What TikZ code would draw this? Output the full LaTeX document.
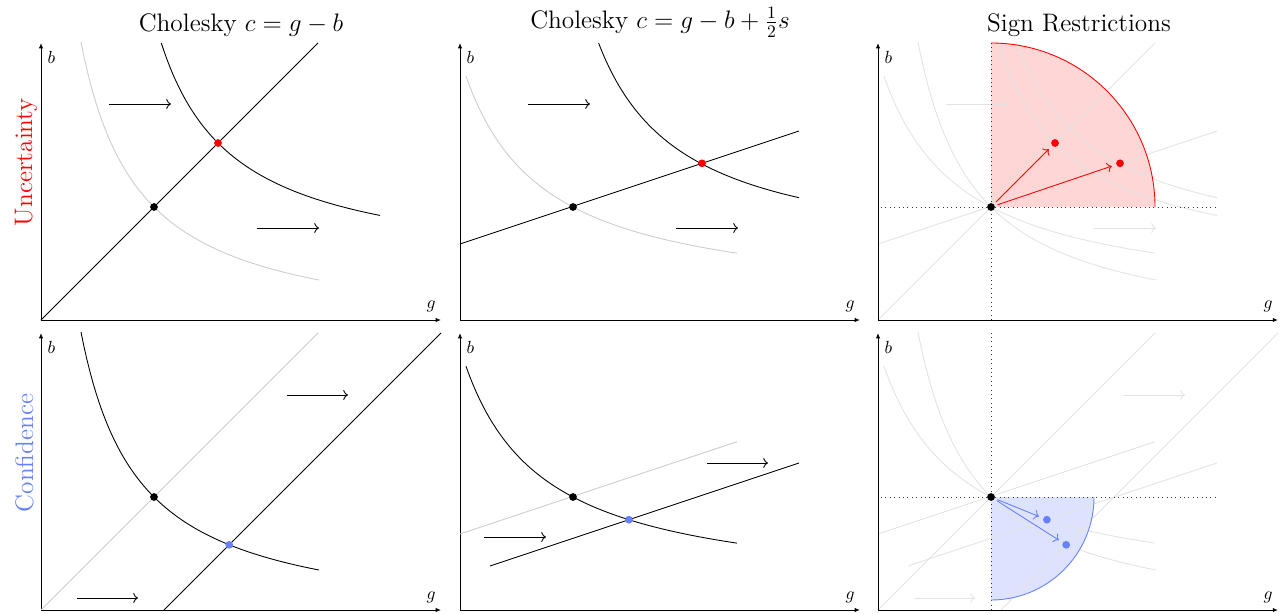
\documentclass[tikz,border=0pt]{standalone}
\usetikzlibrary{arrows.meta,calc}
\definecolor{cblue}{RGB}{102,128,255}
\begin{document}
\begin{tikzpicture}[x=0.02cm,y=0.02cm,line width=0.5pt,
  axis/.style={-{Latex[length=3pt,width=2.4pt]},black},
  curve/.style={black},
  oldcurve/.style={black!20},
  ghost/.style={black!11},
  shiftarrow/.style={->},
  dot/.style={circle,fill,inner sep=0pt,minimum size=4.4pt},
  title/.style={font=\Large,anchor=base},
  rowlabel/.style={font=\Large,rotate=90,anchor=base},
  guide/.style={dotted,black!80},
  vec/.style={->,shorten <=1.5pt,shorten >=2.5pt}]
\useasboundingbox (0,0) rectangle (1287,613);

% titles and row labels
\node[title] (t1) at (241,581) {Cholesky $c=g-b$};
\node[title] (t2) at (660,584.5) {Cholesky $c=g-b+\frac{1}{2}s$};
\node[title] (t3) at (1079,581) {Sign Restrictions};
\node[rowlabel,red] (u) at (32,451) {Uncertainty};
\node[rowlabel,cblue] (c) at (33,160) {Confidence};

% ---------- panel 1 ----------
\begin{scope}[shift={(41,293)}]
  \coordinate (o1) at (0,0);
  \coordinate (x1) at (400,0);
  \coordinate (y1) at (0,277);
  \draw[axis] (o1) -- (x1);
  \draw[axis] (o1) -- (y1);
  \node (b1l) at (10.5,263) {$b$};
  \node (g1l) at (390,14) {$g$};
  \draw[oldcurve] plot[domain=40:278,samples=80,variable=\t] (\t,{131*(131/(\t+18))-18});
  \draw[curve] plot[domain=120.3:339,samples=80,variable=\t] (\t,{131*(131/(\t-46))+46});
  \coordinate (l1a) at (0,0);
  \coordinate (l1b) at (277,277);
  \draw[curve] (l1a) -- (l1b);
  \coordinate (a1s) at (68,216); \coordinate (a1e) at (130,216);
  \coordinate (a2s) at (216,92); \coordinate (a2e) at (278,92);
  \draw[shiftarrow] (a1s) -- (a1e);
  \draw[shiftarrow] (a2s) -- (a2e);
  \node[dot] (p1b) at (113,113) {};
  \node[dot,red] (p1r) at (177,177) {};
\end{scope}

% ---------- panel 2 ----------
\begin{scope}[shift={(460,293)}]
  \coordinate (o2) at (0,0);
  \coordinate (x2) at (400,0);
  \coordinate (y2) at (0,277);
  \draw[axis] (o2) -- (x2);
  \draw[axis] (o2) -- (y2);
  \node (b2l) at (10.5,263) {$b$};
  \node (g2l) at (390,14) {$g$};
  \draw[oldcurve] plot[domain=6:277,samples=80,variable=\t] (\t,{136.4*(136.4/(\t+75))+14});
  \draw[curve] plot[domain=138.6:339,samples=80,variable=\t] (\t,{136.4*(136.4/(\t-54))+57});
  \coordinate (l2a) at (0,76);
  \coordinate (l2b) at (339,189);
  \draw[curve] (l2a) -- (l2b);
  \coordinate (a3s) at (68,216); \coordinate (a3e) at (130,216);
  \coordinate (a4s) at (216,92); \coordinate (a4e) at (278,92);
  \draw[shiftarrow] (a3s) -- (a3e);
  \draw[shiftarrow] (a4s) -- (a4e);
  \node[dot] (p2b) at (113,113) {};
  \node[dot,red] (p2r) at (242,156.7) {};
\end{scope}

% ---------- panel 3 ----------
\begin{scope}[shift={(878,293)}]
  \coordinate (o3) at (0,0);
  \coordinate (x3) at (400,0);
  \coordinate (y3) at (0,277);
  \coordinate (c3) at (113,113);
  \fill[red!16] (c3) -- ++(164,0) arc[start angle=0,end angle=90,radius=164] -- cycle;
  \draw[ghost] plot[domain=40:278,samples=80,variable=\t] (\t,{131*(131/(\t+18))-18});
  \draw[ghost] plot[domain=120.3:339,samples=80,variable=\t] (\t,{131*(131/(\t-46))+46});
  \draw[ghost] plot[domain=6:277,samples=80,variable=\t] (\t,{136.4*(136.4/(\t+75))+14});
  \draw[ghost] plot[domain=138.6:339,samples=80,variable=\t] (\t,{136.4*(136.4/(\t-54))+57});
  \coordinate (g3a) at (0,0); \coordinate (g3b) at (277,277);
  \coordinate (g3c) at (0,76); \coordinate (g3d) at (339,189);
  \draw[ghost] (g3a) -- (g3b);
  \draw[ghost] (g3c) -- (g3d);
  \coordinate (a5s) at (68,216); \coordinate (a5e) at (130,216);
  \coordinate (a6s) at (216,92); \coordinate (a6e) at (278,92);
  \draw[ghost,->] (a5s) -- (a5e);
  \draw[ghost,->] (a6s) -- (a6e);
  \coordinate (h3a) at (3,113); \coordinate (h3b) at (339,113);
  \coordinate (v3a) at (113,0); \coordinate (v3b) at (113,277);
  \draw[guide] (h3a) -- (h3b);
  \draw[guide] (v3a) -- (v3b);
  \draw[red] ($(c3)+(164,0)$) arc[start angle=0,end angle=90,radius=164];
  \draw[axis] (o3) -- (x3);
  \draw[axis] (o3) -- (y3);
  \node (b3l) at (10.5,263) {$b$};
  \node (g3l) at (390,14) {$g$};
  \node[dot] (p3b) at (c3) {};
  \node[dot,red] (p3r1) at (177,177) {};
  \node[dot,red] (p3r2) at (242,156.7) {};
  \draw[vec,red] (p3b) -- (p3r1);
  \draw[vec,red] (p3b) -- (p3r2);
\end{scope}

% ---------- panel 4 ----------
\begin{scope}[shift={(41,3)}]
  \coordinate (o4) at (0,0);
  \coordinate (x4) at (400,0);
  \coordinate (y4) at (0,277);
  \draw[axis] (o4) -- (x4);
  \draw[axis] (o4) -- (y4);
  \node (b4l) at (10.5,263) {$b$};
  \node (g4l) at (390,13) {$g$};
  \coordinate (l4a) at (0,0); \coordinate (l4b) at (277,277);
  \draw[oldcurve] (l4a) -- (l4b);
  \coordinate (l4c) at (123,0); \coordinate (l4d) at (400,277);
  \draw[curve] (l4c) -- (l4d);
  \draw[curve] plot[domain=40:278,samples=80,variable=\t] (\t,{131*(131/(\t+18))-18});
  \coordinate (a7s) at (36,12); \coordinate (a7e) at (97,12);
  \coordinate (a8s) at (246,215); \coordinate (a8e) at (307,215);
  \draw[shiftarrow] (a7s) -- (a7e);
  \draw[shiftarrow] (a8s) -- (a8e);
  \node[dot] (p4b) at (113,113) {};
  \node[dot,cblue] (p4c) at (188.2,65.2) {};
\end{scope}

% ---------- panel 5 ----------
\begin{scope}[shift={(460,3)}]
  \coordinate (o5) at (0,0);
  \coordinate (x5) at (400,0);
  \coordinate (y5) at (0,277);
  \draw[axis] (o5) -- (x5);
  \draw[axis] (o5) -- (y5);
  \node (b5l) at (10.5,263) {$b$};
  \node (g5l) at (390,13) {$g$};
  \coordinate (l5a) at (0,76); \coordinate (l5b) at (277,168.3);
  \draw[oldcurve] (l5a) -- (l5b);
  \coordinate (l5c) at (30,44); \coordinate (l5d) at (339,147);
  \draw[curve] (l5c) -- (l5d);
  \draw[curve] plot[domain=6:277,samples=80,variable=\t] (\t,{136.4*(136.4/(\t+75))+14});
  \coordinate (a9s) at (24,73); \coordinate (a9e) at (86,73);
  \coordinate (a10s) at (247,147); \coordinate (a10e) at (308,147);
  \draw[shiftarrow] (a9s) -- (a9e);
  \draw[shiftarrow] (a10s) -- (a10e);
  \node[dot] (p5b) at (113,113) {};
  \node[dot,cblue] (p5c) at (168.9,90.3) {};
\end{scope}

% ---------- panel 6 ----------
\begin{scope}[shift={(878,3)}]
  \coordinate (o6) at (0,0);
  \coordinate (x6) at (400,0);
  \coordinate (y6) at (0,277);
  \coordinate (c6) at (113,113);
  \fill[cblue!22] (c6) -- ++(103,0) arc[start angle=0,end angle=-90,radius=103] -- cycle;
  \draw[ghost] plot[domain=40:278,samples=80,variable=\t] (\t,{131*(131/(\t+18))-18});
  \draw[ghost] plot[domain=6:277,samples=80,variable=\t] (\t,{136.4*(136.4/(\t+75))+14});
  \coordinate (g6a) at (0,0); \coordinate (g6b) at (277,277);
  \coordinate (g6c) at (123,0); \coordinate (g6d) at (400,277);
  \coordinate (g6e) at (0,76); \coordinate (g6f) at (277,168.3);
  \coordinate (g6g) at (30,44); \coordinate (g6h) at (339,147);
  \draw[ghost] (g6a) -- (g6b);
  \draw[ghost] (g6c) -- (g6d);
  \draw[ghost] (g6e) -- (g6f);
  \draw[ghost] (g6g) -- (g6h);
  \coordinate (a11s) at (36,12); \coordinate (a11e) at (97,12);
  \coordinate (a12s) at (246,215); \coordinate (a12e) at (307,215);
  \draw[ghost,->] (a11s) -- (a11e);
  \draw[ghost,->] (a12s) -- (a12e);
  \coordinate (h6a) at (3,113); \coordinate (h6b) at (339,113);
  \coordinate (v6a) at (113,0); \coordinate (v6b) at (113,277);
  \draw[guide] (h6a) -- (h6b);
  \draw[guide] (v6a) -- (v6b);
  \draw[cblue] ($(c6)+(103,0)$) arc[start angle=0,end angle=-90,radius=103];
  \draw[axis] (o6) -- (x6);
  \draw[axis] (o6) -- (y6);
  \node (b6l) at (10.5,263) {$b$};
  \node (g6l) at (390,13) {$g$};
  \node[dot] (p6b) at (c6) {};
  \node[dot,cblue] (p6c1) at (168.9,90.3) {};
  \node[dot,cblue] (p6c2) at (188.2,65.2) {};
  \draw[vec,cblue] (p6b) -- (p6c1);
  \draw[vec,cblue] (p6b) -- (p6c2);
\end{scope}
\end{tikzpicture}
\end{document}
